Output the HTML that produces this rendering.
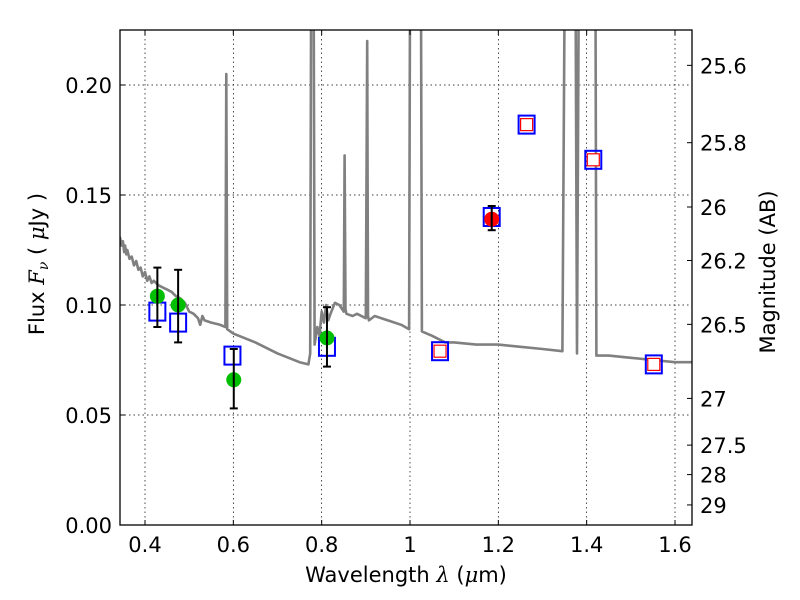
<!DOCTYPE html>
<html><head><meta charset="utf-8"><style>
body{margin:0;background:#fff}
svg{display:block;font-family:"DejaVu Sans","Liberation Sans",sans-serif}
</style></head><body>
<svg id="chart" width="800" height="600" viewBox="0 0 800 600">
<g id="grid"></g>
<g id="spec"></g>
<g id="marks"></g>
<rect x="120" y="30" width="572" height="495" fill="none" stroke="#000" stroke-width="1.3"/>
<g id="axes"></g>
<text x="406" y="582" font-size="21" text-anchor="middle">Wavelength  <tspan font-family="DejaVu Serif,serif" font-style="italic">λ</tspan> (<tspan font-family="DejaVu Serif,serif" font-style="italic">μ</tspan>m)</text>
<text transform="translate(44,264) rotate(-90)" font-size="21" text-anchor="middle">Flux  <tspan font-family="DejaVu Serif,serif" font-style="italic">F<tspan font-size="14" dy="4">ν</tspan></tspan><tspan dy="-4">  (  </tspan><tspan font-family="DejaVu Serif,serif" font-style="italic">μ</tspan>Jy )</text>
<text transform="translate(775,272) rotate(-90)" font-size="21" text-anchor="middle">Magnitude (AB)</text>
</svg>
<script>
const xTicks=[0.4,0.6,0.8,1.0,1.2,1.4,1.6];
const xTickLabels=["0.4","0.6","0.8","1","1.2","1.4","1.6"];
const yTicks=[0,0.05,0.10,0.15,0.20];
const yTickLabels=["0.00","0.05","0.10","0.15","0.20"];
const magTicks=[25.6,25.8,26,26.2,26.5,27,27.5,28,29];
const magTickLabels=["25.6","25.8","26","26.2","26.5","27","27.5","28","29"];
const specWave=[0.343,0.347,0.35,0.353,0.355,0.358,0.36,0.365,0.37,0.375,0.38,0.385,0.39,0.395,0.40,0.405,0.41,0.415,0.42,0.43,0.44,0.45,0.46,0.47,0.48,0.49,0.50,0.51,0.52,0.525,0.53,0.535,0.55,0.57,0.582,0.584,0.586,0.60,0.65,0.70,0.75,0.77,0.774,0.776,0.782,0.784,0.79,0.795,0.80,0.805,0.81,0.815,0.82,0.83,0.84,0.85,0.852,0.854,0.856,0.87,0.88,0.90,0.903,0.905,0.907,0.92,0.95,0.98,0.998,1.0,1.025,1.027,1.05,1.08,1.1,1.15,1.2,1.25,1.3,1.345,1.35,1.355,1.362,1.375,1.378,1.382,1.40,1.405,1.42,1.422,1.45,1.5,1.55,1.6,1.638];
const specFlux=[0.131,0.127,0.129,0.124,0.127,0.123,0.125,0.121,0.122,0.118,0.120,0.116,0.117,0.113,0.115,0.111,0.113,0.110,0.111,0.109,0.108,0.107,0.106,0.104,0.103,0.101,0.097,0.096,0.094,0.091,0.095,0.093,0.092,0.091,0.090,0.205,0.089,0.087,0.083,0.078,0.074,0.073,0.078,0.30,0.30,0.082,0.090,0.086,0.097,0.092,0.100,0.093,0.096,0.101,0.100,0.097,0.168,0.098,0.096,0.095,0.096,0.094,0.22,0.095,0.093,0.095,0.093,0.091,0.089,0.30,0.30,0.088,0.086,0.083,0.083,0.082,0.082,0.081,0.080,0.079,0.30,0.30,0.30,0.30,0.078,0.30,0.30,0.30,0.30,0.077,0.077,0.076,0.075,0.074,0.074];
const greenWave=[0.428,0.475,0.601,0.812];
const greenFlux=[0.104,0.100,0.066,0.085];
const greenLo=[0.090,0.083,0.053,0.072];
const greenHi=[0.117,0.116,0.080,0.099];
const redWave=[1.185];const redFlux=[0.139];const redLo=[0.134];const redHi=[0.145];
const blueWave=[0.428,0.475,0.598,0.812,1.068,1.185,1.264,1.415,1.552];
const blueFlux=[0.097,0.092,0.077,0.081,0.079,0.140,0.182,0.166,0.073];
const modelWave=[1.068,1.264,1.415,1.552];
const modelFlux=[0.079,0.182,0.166,0.073];

const NS="http://www.w3.org/2000/svg";
const L=120,R=692,T=30,B=525;
const X=v=>145+(v-0.4)*441.67;
const Y=v=>B-v*2200;
function mk(tag,attrs,parent){const e=document.createElementNS(NS,tag);for(const k in attrs)e.setAttribute(k,attrs[k]);document.getElementById(parent).appendChild(e);return e;}
xTicks.forEach((t,i)=>{
 const g=mk('line',{x1:X(t),x2:X(t),y1:T,y2:B,stroke:'#000','stroke-width':0.7,'stroke-dasharray':'1.5,3'},'grid');
 
 
 mk('line',{x1:X(t),x2:X(t),y1:B,y2:B-5,stroke:'#000'},'axes');
 mk('line',{x1:X(t),x2:X(t),y1:T,y2:T+5,stroke:'#000'},'axes');
 const tx=mk('text',{x:X(t),y:B+27,'font-size':21,'text-anchor':'middle'},'axes');
 tx.textContent=xTickLabels[i];
 
 
});
yTicks.forEach((t,i)=>{
 const g=mk('line',{x1:L,x2:R,y1:Y(t),y2:Y(t),stroke:'#000','stroke-width':0.7,'stroke-dasharray':'1.5,3'},'grid');
 
 
 mk('line',{x1:L,x2:L+5,y1:Y(t),y2:Y(t),stroke:'#000'},'axes');
 const tx=mk('text',{x:L-8,y:Y(t)+8,'font-size':21,'text-anchor':'end'},'axes');
 tx.textContent=yTickLabels[i];
 
 
});
magTicks.forEach((m,i)=>{
 const f=Math.pow(10,(23.9-m)/2.5);const y=Y(f);
 mk('line',{x1:R,x2:R-5,y1:y,y2:y,stroke:'#000'},'axes');
 const tx=mk('text',{x:R+8,y:y+8,'font-size':21},'axes');
 tx.textContent=magTickLabels[i];
 
 
});
const pts=specWave.map((w,i)=>X(w).toFixed(1)+','+Y(Math.min(specFlux[i],0.24)).toFixed(1)).join(' ');
const cp=mk('clipPath',{id:'clip'},'spec');mk('rect',{x:L,y:T,width:R-L,height:B-T},'spec');
cp.appendChild(document.getElementById('spec').lastChild);
const pl=mk('polyline',{points:pts,fill:'none',stroke:'#808080','stroke-width':2.6,'clip-path':'url(#clip)','stroke-linejoin':'round'},'spec');


function err(w,lo,hi){mk('line',{x1:X(w),x2:X(w),y1:Y(lo),y2:Y(hi),stroke:'#000','stroke-width':2},'marks');
 mk('line',{x1:X(w)-4,x2:X(w)+4,y1:Y(lo),y2:Y(lo),stroke:'#000','stroke-width':2},'marks');
 mk('line',{x1:X(w)-4,x2:X(w)+4,y1:Y(hi),y2:Y(hi),stroke:'#000','stroke-width':2},'marks');}
blueWave.forEach((w,i)=>{const r=mk('rect',{x:X(w)-8,y:Y(blueFlux[i])-9,width:16,height:18,fill:'none',stroke:'#0000ff','stroke-width':2},'marks');
 
 });
modelWave.forEach((w,i)=>{const r=mk('rect',{x:X(w)-6,y:Y(modelFlux[i])-6,width:12,height:12,fill:'#fff',stroke:'#ff0000','stroke-width':1.2},'marks');
 
 });
greenWave.forEach((w,i)=>{const c=mk('circle',{cx:X(w),cy:Y(greenFlux[i]),r:7.5,fill:'#00bf00'},'marks');
 
 
 err(w,greenLo[i],greenHi[i]);});
redWave.forEach((w,i)=>{const c=mk('circle',{cx:X(w),cy:Y(redFlux[i]),r:7.5,fill:'#ff0000'},'marks');
 
 
 err(w,redLo[i],redHi[i]);});
</script>
</body></html>
